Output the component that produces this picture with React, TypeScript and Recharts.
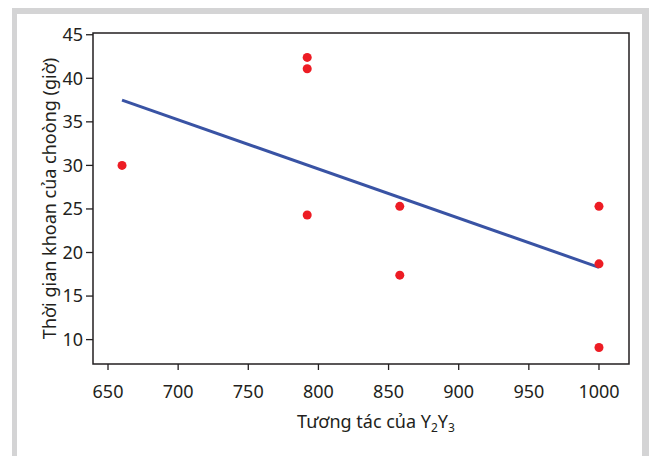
import { ScatterChart, Scatter, XAxis, YAxis, ReferenceArea } from 'recharts'

const drillX = [660, 792, 792, 792, 858, 858, 1000, 1000, 1000]
const drillHours = [30.0, 42.4, 41.1, 24.3, 25.3, 17.4, 25.3, 18.7, 9.1]

const fitX = [660, 1000]
const fitHours = [37.5, 18.3]

const xTicks = [650, 700, 750, 800, 850, 900, 950, 1000]
const yTicks = [10, 15, 20, 25, 30, 35, 40, 45]

const X_MIN = 639.3
const X_MAX = 1021.4
const Y_MIN = 7.2
const Y_MAX = 45.2

const points = drillX.map((x, i) => ({ x, y: drillHours[i] }))
const fitLine = fitX.map((x, i) => ({ x, y: fitHours[i] }))

const FONT = '"Noto Sans", "Open Sans", sans-serif'
const INK = '#231f20'

const tickStyle = { fontSize: 18, fill: INK, fontFamily: FONT }

function XLabel({ viewBox }: any) {
  const cx = viewBox.x + viewBox.width / 2 + 15
  return (
    <text x={cx} y={428} textAnchor="middle" fontSize={18} fill={INK} fontFamily={FONT}>
      Tương tác của Y
      <tspan dy={4} fontSize={12}>2</tspan>
      <tspan dy={-4}>Y</tspan>
      <tspan dy={4} fontSize={12}>3</tspan>
    </text>
  )
}

function YLabel({ viewBox }: any) {
  const cy = viewBox.y + viewBox.height / 2
  return (
    <text
      x={0}
      y={0}
      transform={`translate(56, ${cy}) rotate(-90)`}
      textAnchor="middle"
      fontSize={18}
      fill={INK}
      fontFamily={FONT}
    >
      Thời gian khoan của choòng (giờ)
    </text>
  )
}

export default function App() {
  return (
    <div style={{ position: 'absolute', left: 0, top: 0, width: 649, height: 456, background: '#fff', overflow: 'hidden' }}>
      <div
        style={{
          position: 'absolute',
          left: 12,
          top: 8,
          width: 637,
          height: 470,
          boxSizing: 'border-box',
          borderTop: '6px solid #d4d4d5',
          borderLeft: '5px solid #d4d4d5',
          borderRight: '7px solid #d4d4d5',
        }}
      />
      <div style={{ position: 'absolute', left: 0, top: 0 }}>
        <ScatterChart width={649} height={456} margin={{ top: 33, right: 20, bottom: 42, left: 0 }}>
          <XAxis
            type="number"
            dataKey="x"
            domain={[X_MIN, X_MAX]}
            ticks={xTicks}
            allowDataOverflow
            axisLine={false}
            tickSize={6}
            tickMargin={15}
            tickLine={{ stroke: INK, strokeWidth: 1.3 }}
            tick={tickStyle}
            height={50}
            label={<XLabel />}
          />
          <YAxis
            type="number"
            dataKey="y"
            domain={[Y_MIN, Y_MAX]}
            ticks={yTicks}
            allowDataOverflow
            axisLine={false}
            tickSize={7}
            tickMargin={3}
            tickLine={{ stroke: INK, strokeWidth: 1.3 }}
            tick={tickStyle}
            width={93}
            label={<YLabel />}
          />
          <ReferenceArea
            x1={X_MIN}
            x2={X_MAX}
            y1={Y_MIN}
            y2={Y_MAX}
            fill="none"
            fillOpacity={0}
            stroke={INK}
            strokeWidth={1.5}
            ifOverflow="visible"
          />
          <Scatter
            data={fitLine}
            line={{ stroke: '#3953a4', strokeWidth: 3 }}
            shape={() => <g />}
            isAnimationActive={false}
          />
          <Scatter data={points} fill="#ed1c24" shape="circle" isAnimationActive={false}>
          </Scatter>
        </ScatterChart>
      </div>
    </div>
  )
}
